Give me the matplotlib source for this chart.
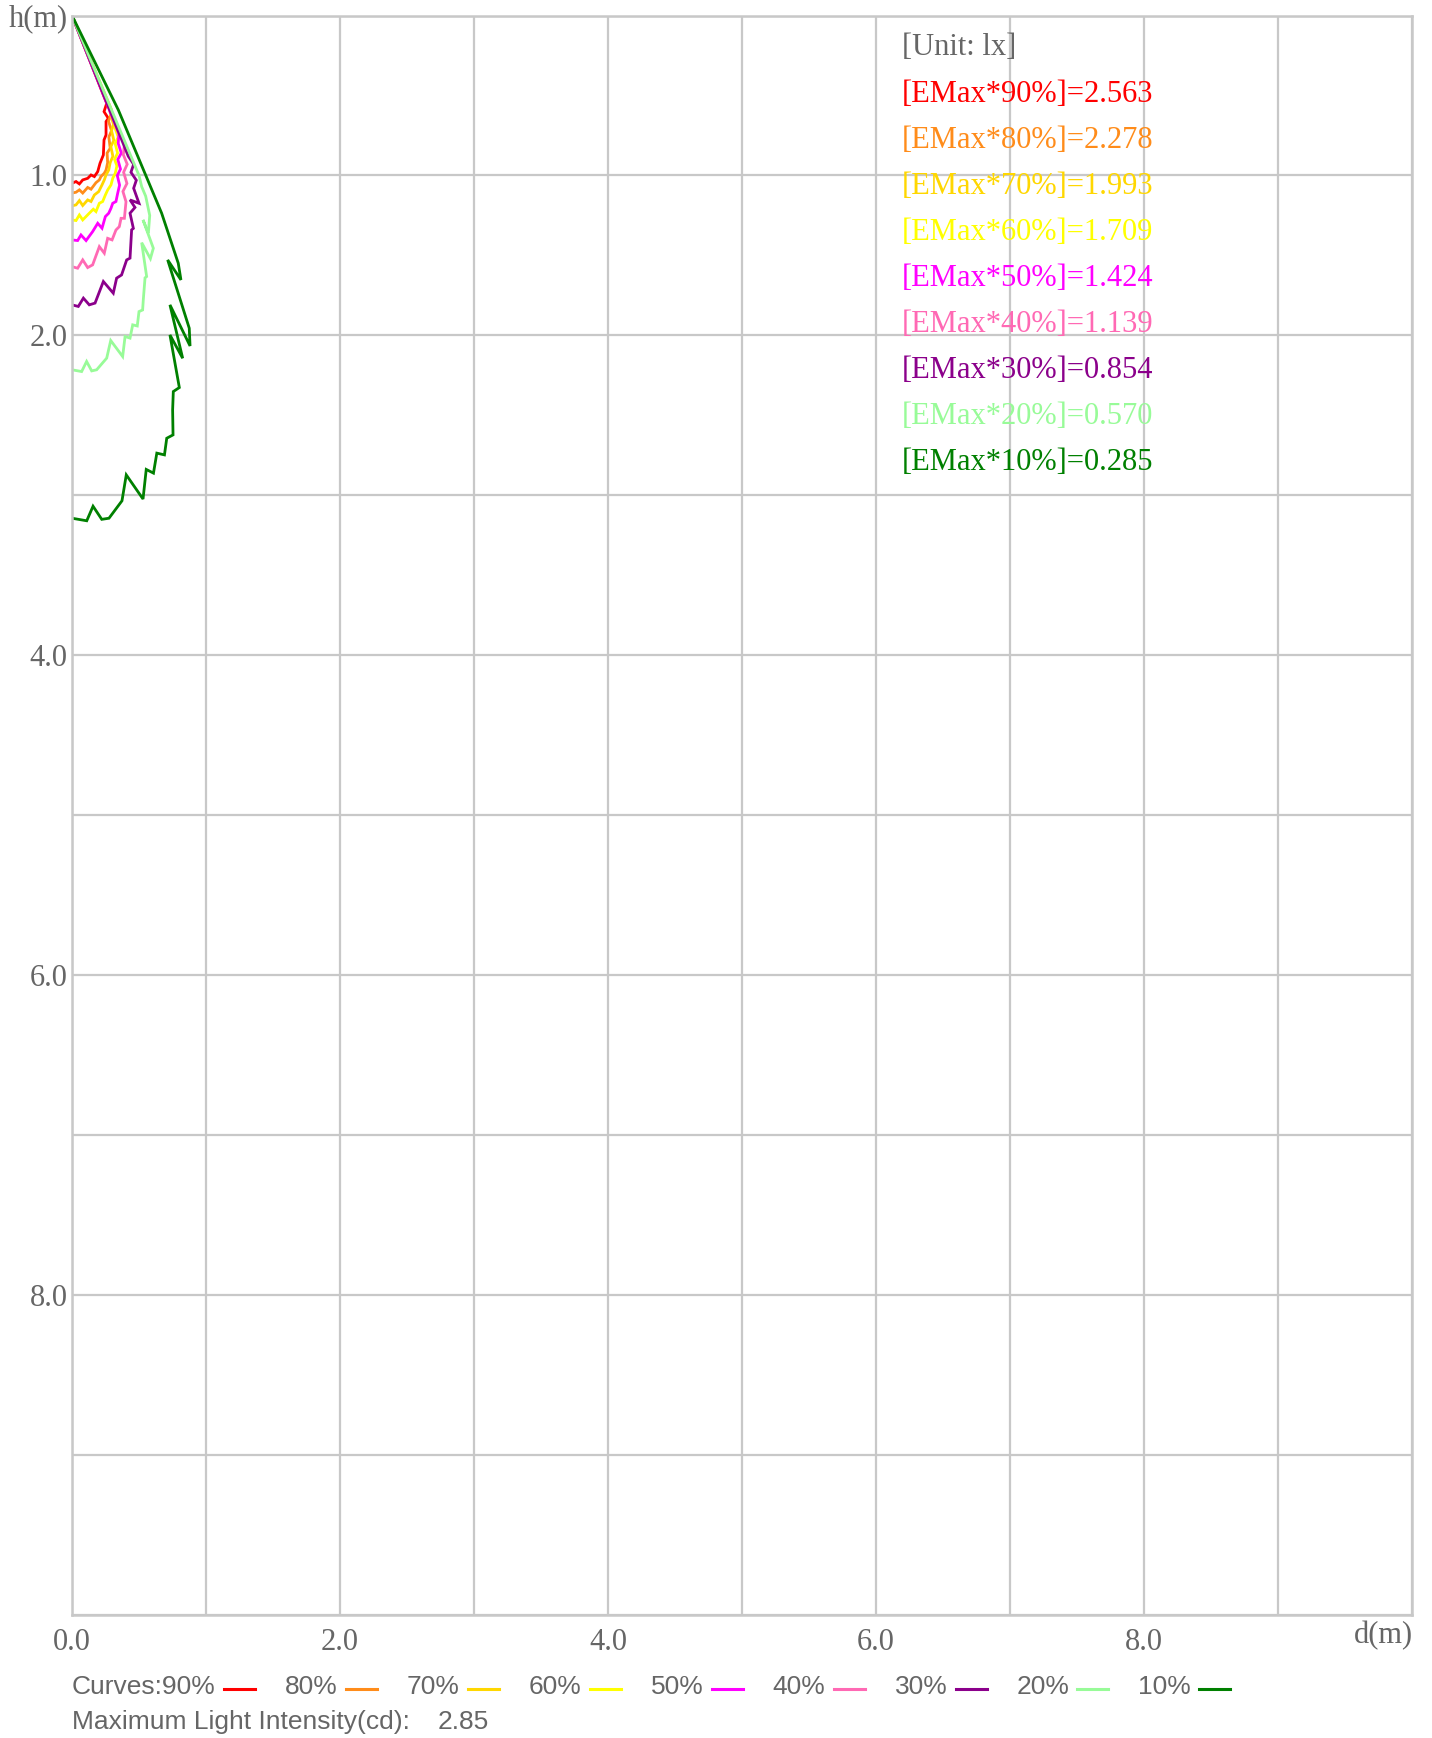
import matplotlib
matplotlib.use("Agg")
import matplotlib.pyplot as plt
from matplotlib.lines import Line2D

# ---------------- data ----------------
percent_labels = ["90%", "80%", "70%", "60%", "50%", "40%", "30%", "20%", "10%"]
emax_values = ["2.563", "2.278", "1.993", "1.709", "1.424", "1.139", "0.854", "0.570", "0.285"]
curve_colors = ["#FF0000", "#FF8C1A", "#FFD700", "#FFFF00", "#FF00FF",
                "#FF69B4", "#8B008B", "#98FB98", "#008000"]
max_intensity = "2.85"

x_ticks = [0, 1, 2, 3, 4, 5, 6, 7, 8, 9, 10]
x_tick_labels = ["0.0", "", "2.0", "", "4.0", "", "6.0", "", "8.0", "", ""]
y_ticks = [0, 1, 2, 3, 4, 5, 6, 7, 8, 9, 10]
y_tick_labels = ["h(m)", "1.0", "2.0", "", "4.0", "", "6.0", "", "8.0", "", ""]

d90 = [0, 0.030, 0.055, 0.080, 0.117, 0.142, 0.167, 0.192, 0.209, 0.234, 0.239, 0.254, 0.254, 0.271, 0.239, 0.259, 0.234, 0]
h90 = [1.049, 1.038, 1.053, 1.028, 1.018, 0.997, 1.007, 0.976, 0.924, 0.872, 0.778, 0.747, 0.663, 0.643, 0.601, 0.549, 0.497, 0]

d80 = [0, 0.030, 0.055, 0.080, 0.117, 0.142, 0.179, 0.204, 0.216, 0.241, 0.254, 0.266, 0.262, 0.285, 0.275, 0.295, 0.272, 0.290, 0.266, 0]
h80 = [1.110, 1.105, 1.090, 1.110, 1.075, 1.086, 1.045, 1.028, 1.007, 0.986, 0.966, 0.92, 0.86, 0.83, 0.76, 0.72, 0.66, 0.62, 0.55, 0]

d70 = [0, 0.030, 0.055, 0.080, 0.117, 0.142, 0.167, 0.199, 0.224, 0.241, 0.254, 0.274, 0.285, 0.305, 0.290, 0.312, 0.295, 0.310, 0.290, 0.295, 0]
h70 = [1.190, 1.184, 1.157, 1.188, 1.153, 1.163, 1.122, 1.101, 1.059, 1.028, 0.997, 0.966, 0.92, 0.88, 0.82, 0.78, 0.72, 0.68, 0.63, 0.59, 0]

d60 = [0, 0.030, 0.055, 0.080, 0.129, 0.159, 0.179, 0.204, 0.229, 0.249, 0.266, 0.291, 0.304, 0.323, 0.335, 0.318, 0.340, 0.322, 0.345, 0.320, 0.325, 0]
h60 = [1.278, 1.282, 1.247, 1.278, 1.236, 1.211, 1.226, 1.174, 1.163, 1.122, 1.091, 1.059, 1.018, 0.986, 0.94, 0.90, 0.86, 0.80, 0.76, 0.70, 0.66, 0]

d50 = [0, 0.042, 0.067, 0.105, 0.154, 0.192, 0.224, 0.249, 0.274, 0.291, 0.304, 0.328, 0.341, 0.355, 0.338, 0.362, 0.342, 0.368, 0.345, 0.350, 0]
h50 = [1.403, 1.407, 1.372, 1.407, 1.351, 1.299, 1.330, 1.257, 1.236, 1.205, 1.174, 1.163, 1.111, 1.06, 1.00, 0.96, 0.90, 0.86, 0.80, 0.74, 0]

d40 = [0, 0.042, 0.080, 0.117, 0.154, 0.204, 0.241, 0.266, 0.299, 0.328, 0.353, 0.366, 0.391, 0.403, 0.380, 0.410, 0.385, 0.412, 0.383, 0.392, 0]
h40 = [1.570, 1.580, 1.528, 1.576, 1.559, 1.445, 1.486, 1.393, 1.403, 1.341, 1.320, 1.268, 1.268, 1.164, 1.10, 1.05, 0.98, 0.93, 0.87, 0.80, 0]

d30 = [0, 0.047, 0.085, 0.129, 0.172, 0.234, 0.308, 0.333, 0.370, 0.408, 0.433, 0.445, 0.458, 0.433, 0.470, 0.433, 0.500, 0.460, 0.480, 0.440, 0.460, 0.420, 0]
h30 = [1.809, 1.819, 1.767, 1.809, 1.798, 1.663, 1.736, 1.642, 1.622, 1.528, 1.517, 1.340, 1.331, 1.236, 1.20, 1.153, 1.174, 1.08, 1.03, 0.98, 0.93, 0.88, 0]

d20 = [0, 0.072, 0.109, 0.147, 0.184, 0.259, 0.289, 0.378, 0.396, 0.433, 0.453, 0.487, 0.500, 0.527, 0.532, 0.545, 0.557, 0.520, 0.585, 0.607, 0.530, 0.570, 0.580, 0.550, 0.520, 0.500, 0]
h20 = [2.215, 2.226, 2.163, 2.222, 2.215, 2.142, 2.032, 2.132, 2.007, 2.017, 1.934, 1.941, 1.851, 1.841, 1.778, 1.64, 1.632, 1.42, 1.52, 1.455, 1.278, 1.36, 1.25, 1.13, 1.07, 1.00, 0]

d10 = [0, 0.110, 0.157, 0.222, 0.276, 0.373, 0.405, 0.530, 0.554, 0.608, 0.633, 0.690, 0.707, 0.754, 0.751, 0.756, 0.801, 0.731, 0.826, 0.731, 0.881, 0.875, 0.714, 0.813, 0.793, 0.669, 0.346, 0]
h10 = [3.143, 3.159, 3.068, 3.150, 3.143, 3.034, 2.872, 3.023, 2.838, 2.861, 2.736, 2.747, 2.643, 2.622, 2.466, 2.351, 2.326, 1.997, 2.143, 1.809, 2.066, 1.955, 1.528, 1.653, 1.549, 1.236, 0.591, 0]

curves_d = [d90, d80, d70, d60, d50, d40, d30, d20, d10]
curves_h = [h90, h80, h70, h60, h50, h40, h30, h20, h10]

# ---------------- figure ----------------
W, H = 1432, 1738
SERIF = ["Liberation Serif", "DejaVu Serif"]
SANS = ["Liberation Sans", "DejaVu Sans"]
GRAY_TXT = "#666666"
GRID = "#C8C8C8"
FS_SERIF = 22
FS_SANS = 19

fig = plt.figure(figsize=(W / 100, H / 100), dpi=100)
ax = fig.add_axes([72 / W, 1 - 1615 / H, 1340 / W, 1599.5 / H])

ax.set_xlim(0, 10)
ax.set_ylim(10, 0)
ax.set_xticks(x_ticks)
ax.set_xticklabels(x_tick_labels)
ax.set_yticks(y_ticks)
ax.set_yticklabels(y_tick_labels)
ax.tick_params(length=0, colors=GRAY_TXT)
ax.tick_params(axis="x", pad=9)
ax.tick_params(axis="y", pad=3)
for lab in ax.get_xticklabels() + ax.get_yticklabels():
    lab.set_fontfamily(SERIF)
    lab.set_fontsize(FS_SERIF)
    lab.set_color(GRAY_TXT)
ax.grid(True, color=GRID, linewidth=1.6)
ax.set_axisbelow(True)
for s in ax.spines.values():
    s.set_color(GRID)
    s.set_linewidth(1.8)

for d, h, c in zip(curves_d, curves_h, curve_colors):
    ax.plot(d, h, color=c, linewidth=2.0, solid_joinstyle="miter")

# d(m) axis label
fig.text(1413 / W, 1 - 1636 / H, "d(m)", family=SERIF, fontsize=FS_SERIF,
         color=GRAY_TXT, ha="right", va="center")

# annotations at upper right
fig.text(902 / W, 1 - 47.5 / H, "[Unit: lx]", family=SERIF, fontsize=FS_SERIF,
         color=GRAY_TXT, ha="left", va="center")
for i, (p, v, c) in enumerate(zip(percent_labels, emax_values, curve_colors)):
    fig.text(902 / W, 1 - (94 + 46.1 * i) / H, f"[EMax*{p}]={v}", family=SERIF,
             fontsize=FS_SERIF, color=c, ha="left", va="center")

# bottom legend
leg_y = 1687
fig.text(72 / W, 1 - leg_y / H, "Curves:" + percent_labels[0], family=SANS,
         fontsize=FS_SANS, color=GRAY_TXT, ha="left", va="center")
fig.add_artist(Line2D([224 / W, 255 / W], [1 - 1689 / H, 1 - 1689 / H],
                      color=curve_colors[0], linewidth=2.2, transform=fig.transFigure))
for i in range(1, len(percent_labels)):
    tx = 285 + (i - 1) * 121.9
    lx = 346 + (i - 1) * 121.9
    fig.text(tx / W, 1 - leg_y / H, percent_labels[i], family=SANS,
             fontsize=FS_SANS, color=GRAY_TXT, ha="left", va="center")
    fig.add_artist(Line2D([lx / W, (lx + 31) / W], [1 - 1689 / H, 1 - 1689 / H],
                          color=curve_colors[i], linewidth=2.2, transform=fig.transFigure))

fig.text(72 / W, 1 - 1722 / H, "Maximum Light Intensity(cd):", family=SANS,
         fontsize=FS_SANS, color=GRAY_TXT, ha="left", va="center")
fig.text(438 / W, 1 - 1722 / H, max_intensity, family=SANS,
         fontsize=FS_SANS, color=GRAY_TXT, ha="left", va="center")

fig.savefig("out.png", dpi=100, facecolor="white")
